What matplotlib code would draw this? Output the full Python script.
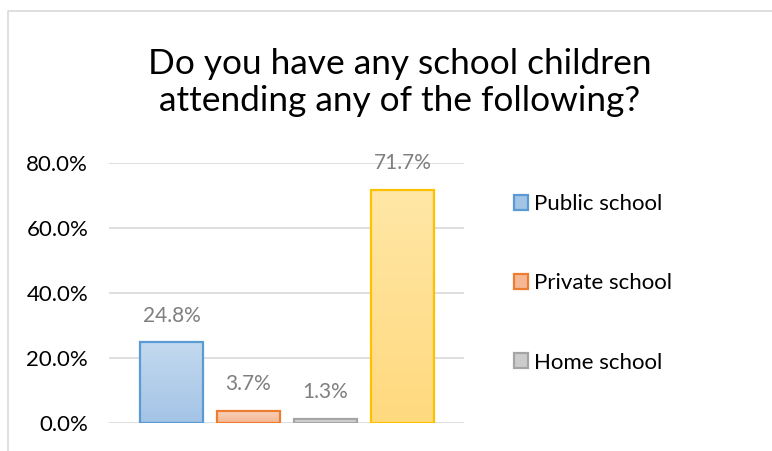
import numpy as np
import matplotlib.pyplot as plt
from matplotlib.patches import Patch
from matplotlib.colors import LinearSegmentedColormap
from matplotlib.lines import Line2D

plt.rcParams['font.family'] = ['Lato', 'DejaVu Sans']

title = "Do you have any school children\nattending any of the following?"

categories = ['Public school', 'Private school', 'Home school', '']
values = [24.8, 3.7, 1.3, 71.7]
tick_values = [0, 20, 40, 60, 80]

# (top colour, bottom colour, edge colour)
styles = [
    ('#c3d9ef', '#a4c4e6', '#5b9bd5'),
    ('#f9d2bd', '#f4b894', '#ed7d31'),
    ('#dedede', '#cccccc', '#a5a5a5'),
    ('#ffe7a6', '#ffd97e', '#ffc000'),
]

fig = plt.figure(figsize=(7.72, 4.51), dpi=100)
ax = fig.add_axes([109 / 772, 28 / 451, 355 / 772, 260 / 451])

x = np.arange(len(values))
width = 0.818
bars = ax.bar(x, values, width=width, facecolor='none', zorder=3)

for bar, (top, bottom, edge) in zip(bars, styles):
    bar.set_edgecolor(edge)
    bar.set_linewidth(1.6)
    cmap = LinearSegmentedColormap.from_list('g', [bottom, top])
    grad = np.linspace(0, 1, 100).reshape(-1, 1)
    x0, y0 = bar.get_x(), bar.get_y()
    im = ax.imshow(grad, cmap=cmap, origin='lower', aspect='auto',
                   extent=[x0, x0 + bar.get_width(), y0, y0 + bar.get_height()],
                   zorder=2)
    im.set_clip_path(bar)

for xi, v in zip(x, values):
    ax.annotate(f'{v:.1f}%', (xi, v), xytext=(0, 12), textcoords='offset points',
                ha='center', va='bottom', color='#7f7f7f', fontsize=15)

ax.set_xlim(-0.812, 3.8)
ax.set_ylim(0, 80)
ax.set_yticks(tick_values)
ax.set_yticklabels([f'{t:.1f}%' for t in tick_values], fontsize=16, color='#000000')
ax.tick_params(axis='y', length=0, pad=15)
ax.set_xticks([])
ax.grid(axis='y', color='#d9d9d9', linewidth=1.2, zorder=0)
ax.set_axisbelow(True)
for s in ax.spines.values():
    s.set_visible(False)

handles = [Patch(facecolor=styles[i][1], edgecolor=styles[i][2], linewidth=1.6)
           for i in range(3)]
fig.legend(handles, categories[:3], loc='upper left', bbox_to_anchor=(494 / 772, 1 - 174 / 451),
           frameon=False, fontsize=16, handlelength=0.65, handleheight=0.65,
           handletextpad=0.25, labelspacing=2.67)

fig.text(400 / 772, 1 - 111 / 451, title, ha='center', va='baseline', fontsize=25.4,
         linespacing=1.2)

fig.add_artist(Line2D([8 / 772, 8 / 772, 1], [0, 1 - 11 / 451, 1 - 11 / 451],
                      color='#d9d9d9', linewidth=1.2, transform=fig.transFigure))

fig.savefig('out.png', dpi=100)
